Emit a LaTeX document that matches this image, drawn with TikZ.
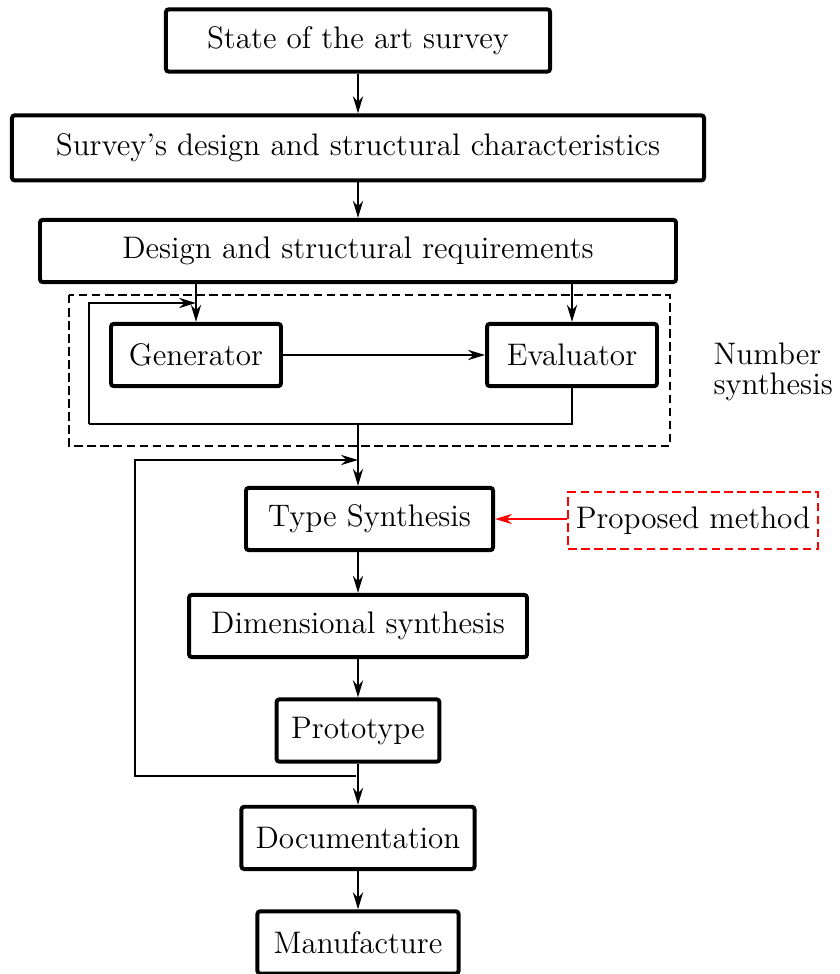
\documentclass[tikz,border=0pt]{standalone}
\usepackage{tikz}
\usetikzlibrary{arrows.meta, positioning}
\definecolor{flowBlack}{HTML}{000000}
\definecolor{flowRed}{HTML}{FF0000}
\tikzset{
  arrowK/.style={-{Stealth[length=6pt, width=3.6pt]}, flowBlack, line width=0.7pt},
  arrowR/.style={-{Stealth[length=6pt, width=3.6pt]}, flowRed, line width=0.7pt},
  lineK/.style={flowBlack, line width=0.7pt},
  boxK/.style={rectangle, rounded corners=1pt, draw=flowBlack, line width=1.4pt,
               align=center, inner sep=3pt, minimum height=22pt},
  boxDash/.style={rectangle, draw=flowRed, dash pattern=on 3pt off 1.6pt,
                  line width=0.7pt, align=center, inner sep=1pt, minimum height=20pt},
  frameDash/.style={draw=flowBlack, dash pattern=on 3pt off 1.6pt, line width=0.7pt},
}
\begin{document}
\begin{tikzpicture}[x=0.353pt, y=-0.353pt, node distance=13.5pt,
                    font=\fontsize{11}{13.6}\selectfont]
  \useasboundingbox (0,0) rectangle (839,974);
  % requirements chain
  \node[boxK, minimum width=135.6pt] (st) at (358,40.5) {State of the art survey};
  \node[boxK, minimum width=244.3pt, minimum height=23pt, below=14pt of st] (sv)
       {Survey's design and structural characteristics};
  \node[boxK, minimum width=224.5pt, below=12.5pt of sv] (dr) {Design and structural requirements};
  % number synthesis
  \draw[frameDash] (69,295) rectangle (670,446);
  \node[boxK, minimum width=60pt] (gen) at (196,355) {Generator};
  \node[boxK, minimum width=60pt] (ev) at (572,355) {Evaluator};
  \node[anchor=west, align=left, inner sep=0pt] (nslbl) at (713,372) {Number\\[-3pt]synthesis};
  % synthesis chain
  \node[boxK, minimum width=87.2pt] (ts) at (369.5,519) {Type Synthesis};
  \node[boxDash, minimum width=88pt] (pm) at (693,520.5) {Proposed method};
  \node[boxK, minimum width=119.3pt] (dim) at (358,626) {Dimensional synthesis};
  \node[boxK, minimum width=57.5pt, below=of dim] (pt) {Prototype};
  \node[boxK, minimum width=82.3pt, below=14.5pt of pt] (doc) {Documentation};
  \node[boxK, minimum width=71pt, below=of doc] (man) {Manufacture};
  % loop points
  \coordinate (loopB) at (89,424);
  \coordinate (loopT) at (196,303);
  \coordinate (nsOut) at (358,424);
  \coordinate (retB) at (356,776);
  \coordinate (retL) at (135,776);
  \coordinate (retT) at (358,460);
  % connectors
  \draw[arrowK] (st) -- (sv);
  \draw[arrowK] (sv) -- (dr);
  \draw[arrowK] (gen.north |- dr.south) -- (gen);
  \draw[arrowK] (ev.north |- dr.south) -- (ev);
  \draw[arrowK] (gen) -- (ev);
  \draw[lineK] (ev.south) |- (loopB);
  \draw[arrowK] (loopB) |- (loopT);
  \draw[arrowK] (nsOut) -- (nsOut |- ts.north);
  \draw[arrowR] (pm.west |- ts.east) -- (ts.east);
  \draw[arrowK] (dim.north |- ts.south) -- (dim);
  \draw[arrowK] (dim) -- (pt);
  \draw[arrowK] (pt) -- (doc);
  \draw[arrowK] (retB) -- (retL) |- (retT);
  \draw[arrowK] (doc) -- (man);
\end{tikzpicture}
\end{document}
